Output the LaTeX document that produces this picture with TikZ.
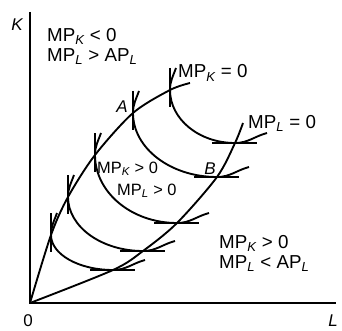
\documentclass[tikz,border=0pt]{standalone}
\usepackage{fontspec}
\setmainfont{Liberation Sans}
\usetikzlibrary{arrows.meta,calc}
\newcommand{\lsub}[1]{\textsubscript{\itshape #1}}

\begin{document}
\begin{tikzpicture}[x=0.3mm,y=0.3mm,
  ax/.style={line width=2.3pt},
  cv/.style={line width=1.6pt},
  lb/.style={inner sep=0pt,font=\fontsize{16}{17}\selectfont,align=left},
  sm/.style={inner sep=0pt,font=\fontsize{14}{15}\selectfont},
  it/.style={inner sep=0pt,font=\fontsize{14.5}{15}\selectfont\itshape}]
\useasboundingbox (-30,-27) rectangle (312,303);
\coordinate (O) at (0,0);
\coordinate (Ktop) at (0,291);
\coordinate (Lend) at (306,0);
% axes
\draw[ax] (Ktop) -- (O) -- (Lend);
\node[it] (k) at (-13,278) {K};
\node[it] (l) at (303,-18) {L};
\node[it,font=\fontsize{14.5}{15}\selectfont] (zero) at (-2,-18) {0};
% isoquants, vertical tangent at U, horizontal tangent at L
\foreach \i/\ux/\uy/\lx/\ly in {1/140/213/205/160,2/103/190/187/126,3/65/148/147/80,4/38/106/113/52,5/21/68/83/33}{
  \coordinate (U\i) at (\ux,\uy);
  \coordinate (L\i) at (\lx,\ly);
  \draw[cv] (U\i) ++(6,22) to[out=-110,in=90] (U\i)
    arc[start angle=180,end angle=270,x radius=\lx-\ux,y radius=\uy-\ly]
    to[out=0,in=195] ++(32,10);
  \draw[cv] (U\i) ++(0,22) -- ++(0,-39);
  \draw[cv] (L\i) ++(-23,0) -- ++(45,0);
}
\coordinate (Ue) at (160,220);
\coordinate (Le) at (213,180);
% ridge lines
\draw[cv] plot[smooth] coordinates {(O) (U5) (U4) (U3) (U2) (U1) (Ue)};
\draw[cv] plot[smooth] coordinates {(O) (L5) (L4) (L3) (L2) (L1) (Le)};
% labels
\node[it] (a) at (92,196) {A};
\node[it] (b) at (180,134) {B};
\node[lb,anchor=north west] (ul) at (17,275) {MP\lsub{K} < 0\\MP\lsub{L} > AP\lsub{L}};
\node[lb,anchor=base west] (mk0) at (148,225) {MP\lsub{K} = 0};
\node[lb,anchor=base west] (ml0) at (218,175) {MP\lsub{L} = 0};
\node[sm,anchor=base west] (mk) at (67,130) {MP\lsub{K} > 0};
\node[sm,anchor=base west] (ml) at (87,108) {MP\lsub{L} > 0};
\node[lb,anchor=north west] (lr) at (189,68) {MP\lsub{K} > 0\\MP\lsub{L} < AP\lsub{L}};
\end{tikzpicture}
\end{document}
